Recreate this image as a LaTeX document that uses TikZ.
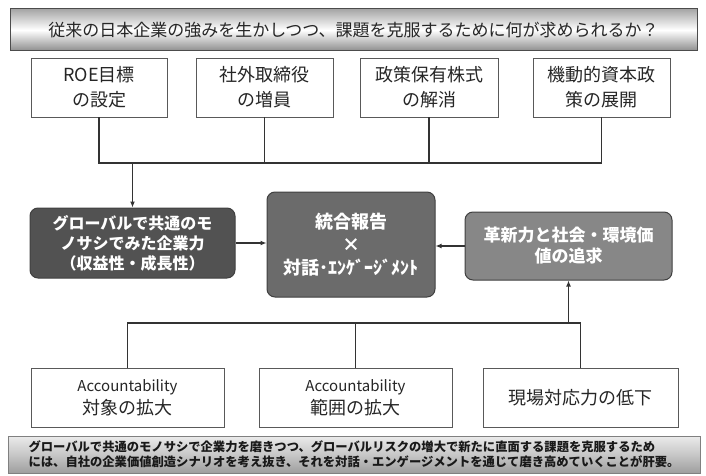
\documentclass[tikz,border=0pt]{standalone}
\usepackage{fontspec}
\setmainfont{Noto Sans CJK JP}
\usetikzlibrary{arrows.meta,shadings}
\begin{document}
\begin{tikzpicture}[x=1pt,y=-1pt,
  conn/.style={draw=black!80,line width=1.2pt},
  arr/.style={conn,-{Latex[length=6pt,width=5pt]}},
  wbox/.style={draw=black!65,line width=0.9pt,fill=white,inner sep=0pt,align=center,text=black!85,font=\fontsize{18}{25}\selectfont},
  gbox/.style={draw=black!75,line width=1pt,rounded corners=8pt,inner sep=0pt,align=center,text=white,font=\bfseries\fontsize{17}{21}\selectfont},
]
\useasboundingbox (0,0) rectangle (706,476);
% title
\node[draw=black!70,line width=1pt,top color=black!35,bottom color=black!45,middle color=white,
      minimum width=687pt,minimum height=42pt,inner sep=0pt,text=black!85,
      font=\fontsize{17}{20}\selectfont] (title) at (353.5,30) {従来の日本企業の強みを生かしつつ、課題を克服するために何が求められるか？};
% row 1
\node[wbox,minimum width=136pt,minimum height=59pt] (r1) at (99,87.5) {ROE目標\\の設定};
\node[wbox,minimum width=137pt,minimum height=59pt] (r2) at (264.5,87.5) {社外取締役\\の増員};
\node[wbox,minimum width=138pt,minimum height=59pt] (r3) at (429,87.5) {政策保有株式\\の解消};
\node[wbox,minimum width=137pt,minimum height=59pt] (r4) at (601.5,87.5) {機動的資本政\\策の展開};
% middle
\node[gbox,fill=black!68,minimum width=205pt,minimum height=70pt,font=\bfseries\fontsize{16}{20}\selectfont] (left) at (132.5,243) {グローバルで共通のモ\\ノサシでみた企業力\\（収益性・成長性）};
\node[gbox,fill=black!58,minimum width=168pt,minimum height=105pt,font=\bfseries\fontsize{18}{23}\selectfont] (center) at (351,244.5) {統合報告\\×\\対話･ｴﾝｹﾞｰｼﾞﾒﾝﾄ};
\node[gbox,fill=black!47,minimum width=207pt,minimum height=68pt] (right) at (568.5,246) {革新力と社会・環境価\\値の追求};
% bottom row
\node[wbox,minimum width=193pt,minimum height=59pt,font=\fontsize{18}{23}\selectfont] (q1) at (127.5,397.5) {{\fontsize{15}{18}\selectfont Accountability}\\対象の拡大};
\node[wbox,minimum width=193pt,minimum height=59pt,font=\fontsize{18}{23}\selectfont] (q2) at (355.5,397.5) {{\fontsize{15}{18}\selectfont Accountability}\\範囲の拡大};
\node[wbox,minimum width=195pt,minimum height=59pt] (q3) at (580.5,397.5) {現場対応力の低下};
% caption
\node[draw=black!50,line width=0.8pt,top color=black!8,bottom color=black!38,middle color=black!22,
      minimum width=692pt,minimum height=37pt,inner sep=0pt,align=left,text=black!90,
      font=\bfseries\fontsize{12.3}{15}\selectfont] (cap) at (354,454.5)
  {グローバルで共通のモノサシで企業力を磨きつつ、グローバルリスクの増大で新たに直面する課題を克服するため\\には、自社の企業価値創造シナリオを考え抜き、それを対話・エンゲージメントを通じて磨き高めていくことが肝要。};
% connectors top
\coordinate (bA) at (134,163);
\draw[conn] (r1.south) -- (r1.south |- bA) -- (r4.south |- bA) -- (r4.south);
\draw[conn] (r2.south) -- (r2.south |- bA);
\draw[conn] (r3.south) -- (r3.south |- bA);
\draw[arr] (left.north |- bA) -- (left.north);
% connectors bottom
\coordinate (bB) at (570,323);
\draw[conn] (q1.north) -- (q1.north |- bB) -- (q3.north |- bB) -- (q3.north);
\draw[conn] (q2.north) -- (q2.north |- bB);
\draw[arr] (right.south |- bB) -- (right.south);
% side arrows
\draw[arr] (left.east) -- (left.east -| center.west);
\draw[arr] (right.west) -- (right.west -| center.east);
\end{tikzpicture}
\end{document}
